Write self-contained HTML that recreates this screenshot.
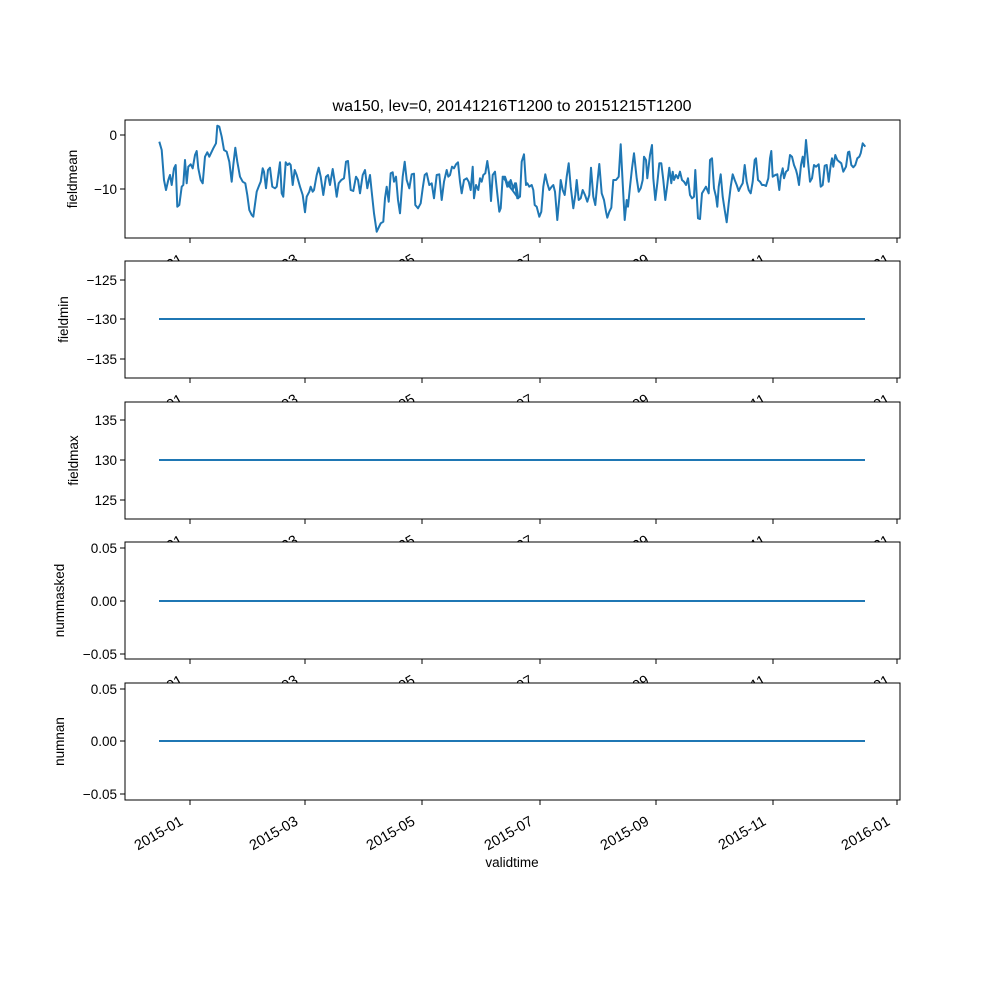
<!DOCTYPE html>
<html><head><meta charset="utf-8"><style>
html,body{margin:0;padding:0;background:#fff}
svg text{font-family:"Liberation Sans","DejaVu Sans",sans-serif;font-size:13.5px;fill:#000}
</style></head><body>
<svg id="s" width="1000" height="1000" xmlns="http://www.w3.org/2000/svg"></svg>
<script>
const s=document.getElementById('s');
let h='';
const L=125,R=900;
const ticks=[[190,'2015-01'],[305,'2015-03'],[422,'2015-05'],[540,'2015-07'],[656,'2015-09'],[773,'2015-11'],[897,'2016-01']];
const panels=[
 {t:120,b:238,lab:'fieldmean',lx:77,yt:[[135,'0'],[189,'−10']]},
 {t:261,b:378,lab:'fieldmin',lx:68,yt:[[280,'−125'],[319,'−130'],[359,'−135']],flat:319},
 {t:402,b:519,lab:'fieldmax',lx:78,yt:[[420,'135'],[460,'130'],[500,'125']],flat:460},
 {t:542,b:659,lab:'nummasked',lx:64,yt:[[548,'0.05'],[601,'0.00'],[654,'−0.05']],flat:601},
 {t:683,b:800,lab:'numnan',lx:64,yt:[[689,'0.05'],[741,'0.00'],[794,'−0.05']],flat:741}
];
const z1=[[118,80],[125,105],[132,195],[138,225],[145,195],[150,180],[155,210],[162,160],[167,150],[172,275],[178,270],[185,215],[190,210],[195,135],[200,205],[205,155],[212,148],[218,160],[225,120],[230,108],[235,160],[242,195],[248,205],[255,125],[262,112],[268,125],[280,100],[288,85],[292,32],[298,35],[305,65],[312,105],[320,110],[328,140],[335,200],[340,150],[346,98],[352,140],[360,185],[368,200],[376,205],[382,240],[388,285],[395,300],[400,305],[410,230],[418,210],[422,200],[428,160],[432,170],[438,220],[444,165],[450,158],[457,215],[465,220],[470,215],[475,180],[480,142],[485,235],[490,245],[497,142],[503,150],[508,145],[512,150],[518,210],[524,165],[530,180],[540,215],[548,240],[555,292],[560,245],[568,230],[572,215],[578,230],[582,225],[590,180],[596,158],[602,185],[610,240],[618,185],[624,180],[630,210],[638,162],[644,200],[650,245],[656,205],[664,195],[672,190],[678,140],[684,138],[692,225],[700,228],[708,185],[714,195],[720,235],[728,180],[735,165],[742,220],[750,180],[755,230],[762,295],[770,350],[775,340],[782,325],[790,320],[795,250],[800,215],[806,260],[812,175],[818,172],[822,200],[828,185],[834,255],[840,295],[848,185],[854,140],[860,195],[868,220],[875,178],[882,176],[886,270],[894,280],[902,265],[908,220],[914,180],[920,175],[928,210],[935,205],[942,250],[950,180],[958,178],[965,255],[972,200],[980,165],[985,185],[990,180],[996,155],[1002,160],[1008,148],[1014,142],[1020,200],[1025,235],[1032,195],[1040,190],[1046,200],[1052,225],[1058,155],[1062,250],[1068,210],[1075,225],[1080,190],[1085,200],[1090,180],[1096,175],[1102,138],[1108,180],[1113,258],[1118,180],[1125,170],[1130,220],[1138,290],[1142,280],[1148,185],[1155,185],[1160,200],[1168,215],[1172,195],[1180,220],[1188,205],[1195,250]];
const z2=[[8,185],[15,190],[22,215],[28,200],[32,220],[38,225],[45,205],[52,250],[60,245],[65,140],[72,118],[78,210],[82,205],[88,215],[95,210],[100,225],[104,270],[110,275],[118,305],[124,290],[130,215],[136,178],[142,205],[148,225],[155,215],[160,210],[165,230],[172,315],[178,250],[182,195],[188,225],[194,240],[200,185],[206,145],[212,215],[220,280],[226,240],[230,195],[236,255],[242,250],[248,225],[255,240],[262,260],[268,240],[273,158],[280,245],[286,270],[292,205],[298,147],[305,235],[312,255],[318,290],[322,308],[328,290],[334,278],[340,195],[348,195],[356,185],[362,88],[368,205],[374,315],[380,255],[384,275],[390,215],[396,160],[402,115],[410,190],[416,230],[422,220],[428,195],[432,125],[438,135],[442,190],[450,120],[456,90],[460,190],[466,255],[472,205],[478,145],[484,145],[490,195],[496,255],[502,210],[508,158],[514,205],[518,170],[522,195],[528,180],[534,190],[540,170],[546,195],[552,200],[558,210],[564,190],[570,240],[576,250],[582,245],[586,165],[590,240],[594,310],[600,312],[606,235],[612,225],[618,215],[622,225],[626,235],[630,135],[636,130],[642,220],[648,245],[652,275],[656,215],[662,178],[668,245],[674,285],[680,322],[686,265],[692,215],[698,178],[704,195],[710,210],[716,228],[722,215],[728,205],[734,150],[740,200],[746,225],[752,235],[758,200],[764,135],[768,130],[774,195],[780,200],[786,210],[792,210],[798,213],[805,190],[810,130],[814,108],[818,185],[826,180],[832,178],[838,225],[842,185],[848,160],[852,190],[858,170],[864,165],[870,120],[876,125],[882,150],[888,165],[892,180],[897,210],[903,150],[908,125],[912,155],[918,75],[924,140],[930,200],[936,190],[942,150],[948,155],[956,148],[962,215],[968,210],[974,152],[980,150],[986,200],[992,150],[996,130],[1000,155],[1006,120],[1012,135],[1018,140],[1024,145],[1030,170],[1038,155],[1044,112],[1048,110],[1054,150],[1060,157],[1066,150],[1072,130],[1078,125],[1082,115],[1088,85],[1096,95]];
let pts=z1.map(p=>(120+p[0]/3).toFixed(1)+','+(115+p[1]/3).toFixed(1)).concat(z2.map(p=>(500+p[0]/3).toFixed(1)+','+(115+p[1]/3).toFixed(1))).join(' ');
h+='<text x="512" y="111" text-anchor="middle" style="font-size:16px">wa150, lev=0, 20141216T1200 to 20151215T1200</text>';
panels.forEach((p,i)=>{
 h+=`<rect x="${L}" y="${p.t}" width="${R-L}" height="${p.b-p.t}" fill="#fff" stroke="#000" stroke-width="1"/>`;
 if(p.flat) h+=`<line x1="159" y1="${p.flat}" x2="865" y2="${p.flat}" stroke="#1f77b4" stroke-width="2"/>`;
 else h+=`<polyline points="${pts}" fill="none" stroke="#1f77b4" stroke-width="2" stroke-linejoin="round"/>`;
 p.yt.forEach(t=>{h+=`<line x1="${L-5}" y1="${t[0]}" x2="${L}" y2="${t[0]}" stroke="#000"/><text x="${L-8}" y="${t[0]+5}" text-anchor="end">${t[1]}</text>`;});
 const my=(p.t+p.b)/2;
 h+=`<text transform="translate(${p.lx},${my}) rotate(-90)" text-anchor="middle">${p.lab}</text>`;
 ticks.forEach(t=>{h+=`<line x1="${t[0]}" y1="${p.b}" x2="${t[0]}" y2="${p.b+5}" stroke="#000"/><text transform="translate(${t[0]-6},${p.b+24}) rotate(-30)" text-anchor="end" style="font-size:14.5px">${t[1]}</text>`;});
});
h+='<text x="512" y="867" text-anchor="middle">validtime</text>';
s.innerHTML=h;
</script>
</body></html>
